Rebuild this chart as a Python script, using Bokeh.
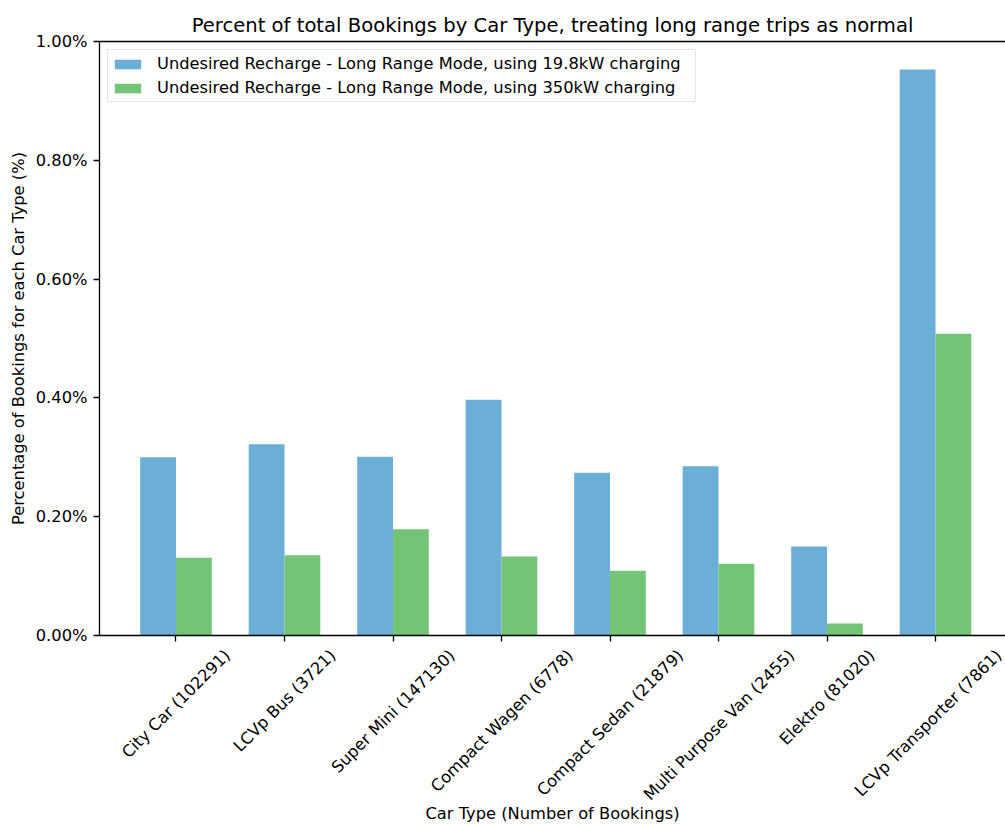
import math

from bokeh.plotting import figure
from bokeh.models import (Range1d, LinearAxis, FixedTicker, PrintfTickFormatter,
                          ColumnDataSource)
from bokeh.embed import file_html
from bokeh.resources import INLINE

# ---- data -----------------------------------------------------------------
car_types = [
    "City Car (102291)",
    "LCVp Bus (3721)",
    "Super Mini (147130)",
    "Compact Wagen (6778)",
    "Compact Sedan (21879)",
    "Multi Purpose Van (2455)",
    "Elektro (81020)",
    "LCVp Transporter (7861)",
]
# percentage of bookings per car type (values in %)
recharge_19_8kw = [0.300, 0.322, 0.301, 0.397, 0.274, 0.285, 0.150, 0.953]
recharge_350kw = [0.131, 0.135, 0.179, 0.133, 0.109, 0.121, 0.020, 0.508]

series_labels = [
    "Undesired Recharge - Long Range Mode, using 19.8kW charging",
    "Undesired Recharge - Long Range Mode, using 350kW charging",
]
y_ticks = [0.0, 0.2, 0.4, 0.6, 0.8, 1.0]

# ---- style ----------------------------------------------------------------
FONT = "DejaVu Sans"
BLUE = "#6baed6"
GREEN = "#74c476"
BAR_W = 0.33
LABEL_PX = 16.3
FS = "16.3px"
X_START, X_END = -0.705, 7.645
FRAME_W = 906.0  # plot frame width in px (99 .. 1005)
PX_PER_UNIT_X = FRAME_W / (X_END - X_START)

# DejaVu Sans advance widths (units per em = 2048), used to place the
# rotated category labels so that each one is centred under its tick
_ADV = {" ": 651, "(": 799, ")": 799, "B": 1405, "C": 1430, "E": 1294,
        "L": 1141, "M": 1767, "P": 1235, "S": 1300, "T": 1251, "V": 1401,
        "W": 2025, "a": 1255, "c": 1126, "d": 1300, "e": 1260, "g": 1300,
        "i": 569, "k": 1186, "l": 569, "m": 1995, "n": 1298, "o": 1253,
        "p": 1300, "r": 842, "s": 1067, "t": 803, "u": 1298, "y": 1212}


def text_width(s, px):
    return sum(1303 if ch.isdigit() else _ADV.get(ch, 1200) for ch in s) / 2048 * px


idx = list(range(len(car_types)))
src = ColumnDataSource(dict(
    x_a=[i - BAR_W / 2 for i in idx],
    x_b=[i + BAR_W / 2 for i in idx],
    a=recharge_19_8kw,
    b=recharge_350kw,
))

p = figure(
    width=1005, height=825,
    x_range=Range1d(X_START, X_END), y_range=Range1d(0, 1.0),
    x_axis_type=None, y_axis_type=None,
    output_backend="svg", toolbar_location=None,
    min_border_left=99, min_border_right=0, min_border_top=41, min_border_bottom=190,
)
p.background_fill_color = "white"
p.border_fill_color = "white"
p.outline_line_color = None
p.xgrid.visible = False
p.ygrid.visible = False

p.title.text = "Percent of total Bookings by Car Type, treating long range trips as normal"
p.title.text_font = FONT
p.title.text_font_size = "19.6px"
p.title.text_font_style = "normal"
p.title.text_color = "black"
p.title.align = "center"
p.title.offset = 6
p.title.standoff = 9

p.vbar(x="x_a", top="a", width=BAR_W, source=src,
       fill_color=BLUE, line_color=None, legend_label=series_labels[0])
p.vbar(x="x_b", top="b", width=BAR_W, source=src,
       fill_color=GREEN, line_color=None, legend_label=series_labels[1])


def style_axis(ax):
    ax.axis_line_color = "black"
    ax.axis_line_width = 1.3
    ax.major_tick_line_color = "black"
    ax.major_tick_line_width = 1.3
    ax.major_tick_out = 6
    ax.major_tick_in = 0
    ax.minor_tick_out = 0
    ax.minor_tick_in = 0
    ax.major_label_text_font = FONT
    ax.major_label_text_font_size = FS
    ax.major_label_text_color = "black"
    ax.axis_label_text_font = FONT
    ax.axis_label_text_font_size = FS
    ax.axis_label_text_font_style = "normal"
    ax.axis_label_text_color = "black"


yaxis = LinearAxis(ticker=FixedTicker(ticks=y_ticks),
                   formatter=PrintfTickFormatter(format="%.2f%%"),
                   axis_label="Percentage of Bookings for each Car Type (%)")
style_axis(yaxis)
yaxis.major_label_standoff = 6
yaxis.axis_label_standoff = 5
p.add_layout(yaxis, "left")

# Bottom axis: tick marks sit on the category positions (drawn as minor
# ticks); the rotated labels are anchored at their right end, shifted so
# that each label's box is centred on its category.
label_pos = []
overrides = {}
for i, name in enumerate(car_types):
    shift = 0.3536 * text_width(name, LABEL_PX) / PX_PER_UNIT_X
    pos = round(min(i + shift, X_END - 0.002), 4)
    label_pos.append(pos)
    overrides[pos] = name

xaxis = LinearAxis(ticker=FixedTicker(ticks=label_pos, minor_ticks=idx),
                   axis_label="Car Type (Number of Bookings)")
style_axis(xaxis)
xaxis.major_tick_out = 0
xaxis.major_tick_line_color = None
xaxis.minor_tick_out = 6
xaxis.minor_tick_line_color = "black"
xaxis.minor_tick_line_width = 1.3
xaxis.major_label_overrides = overrides
xaxis.major_label_orientation = math.pi / 4
xaxis.major_label_standoff = 11
xaxis.axis_label_standoff = -10
p.add_layout(xaxis, "below")

top_spine = LinearAxis(ticker=FixedTicker(ticks=[]))
style_axis(top_spine)
top_spine.major_tick_out = 0
top_spine.major_label_text_font_size = "0px"
top_spine.major_label_standoff = 0
p.add_layout(top_spine, "above")

leg = p.legend[0]
leg.location = "top_left"
leg.margin = 8
leg.padding = 3
leg.spacing = 3
leg.label_height = 21
leg.label_width = 535
leg.glyph_width = 33
leg.glyph_height = 12
leg.label_standoff = 13
leg.label_text_font = FONT
leg.label_text_font_size = FS
leg.label_text_color = "black"
leg.border_line_color = "#cccccc"
leg.border_line_width = 1
leg.background_fill_color = "white"
leg.background_fill_alpha = 0.8

open("out.html", "w").write(file_html(p, INLINE))
